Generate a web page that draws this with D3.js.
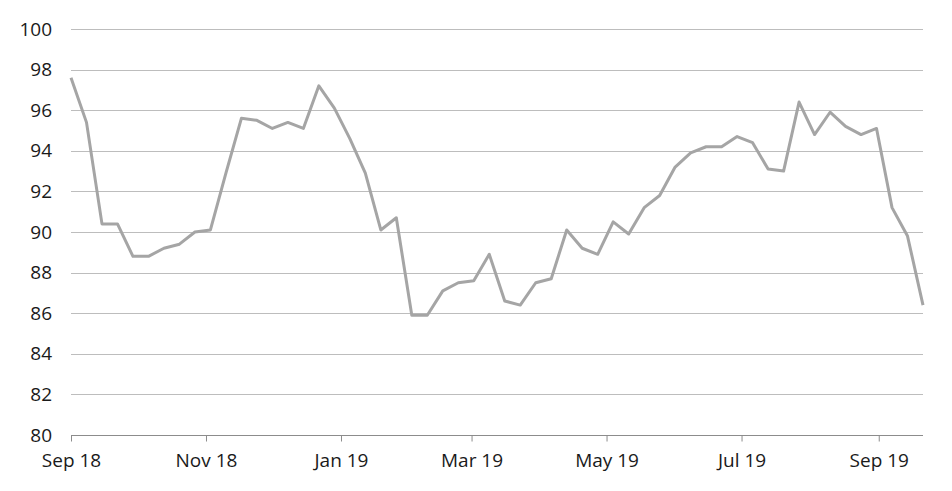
<!DOCTYPE html>
<html><head><meta charset="utf-8">
<script src="https://cdn.jsdelivr.net/npm/d3@7"></script>
<style>body{margin:0;background:#fff}svg{display:block}text{font-family:"Open Sans","DejaVu Sans",sans-serif}</style>
</head><body><svg id="c" width="952" height="491"></svg>
<script>
const dates = ["2018-09-01","2018-09-08","2018-09-15","2018-09-22","2018-09-29","2018-10-06","2018-10-13","2018-10-20","2018-10-27","2018-11-03","2018-11-10","2018-11-17","2018-11-24","2018-12-01","2018-12-08","2018-12-15","2018-12-22","2018-12-29","2019-01-05","2019-01-12","2019-01-19","2019-01-26","2019-02-02","2019-02-09","2019-02-16","2019-02-23","2019-03-02","2019-03-09","2019-03-16","2019-03-23","2019-03-30","2019-04-06","2019-04-13","2019-04-20","2019-04-27","2019-05-04","2019-05-11","2019-05-18","2019-05-25","2019-06-01","2019-06-08","2019-06-15","2019-06-22","2019-06-29","2019-07-06","2019-07-13","2019-07-20","2019-07-27","2019-08-03","2019-08-10","2019-08-17","2019-08-24","2019-08-31","2019-09-07","2019-09-14","2019-09-21"];
const values = [97.6,95.4,90.4,90.4,88.8,88.8,89.2,89.4,90.0,90.1,92.9,95.6,95.5,95.1,95.4,95.1,97.2,96.1,94.6,92.9,90.1,90.7,85.9,85.9,87.1,87.5,87.6,88.9,86.6,86.4,87.5,87.7,90.1,89.2,88.9,90.5,89.9,91.2,91.8,93.2,93.9,94.2,94.2,94.7,94.4,93.1,93.0,96.4,94.8,95.9,95.2,94.8,95.1,91.2,89.8,86.4];
const yTicks = [80,82,84,86,88,90,92,94,96,98,100];
const xTickDates = ["2018-09-01","2018-11-01","2019-01-01","2019-03-01","2019-05-01","2019-07-01","2019-09-01"];
const xTickLabels = ["Sep 18","Nov 18","Jan 19","Mar 19","May 19","Jul 19","Sep 19"];

const parse = d3.utcParse("%Y-%m-%d");
const data = dates.map((d,i)=>({date:parse(d), value:values[i]}));
const svg = d3.select("#c");
const m = {left:71, right:29, top:29, bottom:56};
const W = 952, H = 491;
const x = d3.scaleUtc().domain([parse(dates[0]), parse(dates[dates.length-1])]).range([m.left, W-m.right]);
const y = d3.scaleLinear().domain([80,100]).range([H-m.bottom, m.top]);

// grid
svg.append("g").selectAll("line").data(yTicks.filter(t=>t>80)).join("line")
  .attr("x1", m.left).attr("x2", W-m.right)
  .attr("y1", d=>Math.round(y(d))+0.5).attr("y2", d=>Math.round(y(d))+0.5)
  .attr("stroke", "#bdbdbd").attr("stroke-width", 1);

// y labels
const yAxis = d3.axisLeft(y).tickValues(yTicks).tickSize(0).tickPadding(19);
const gy = svg.append("g").attr("transform", `translate(${m.left},0)`).call(yAxis);
gy.select(".domain").remove();
gy.selectAll("text").attr("font-size", 19).attr("fill", "#1a1a1a").style("font-family", '"Open Sans",sans-serif');

// x axis
const xAxis = d3.axisBottom(x).tickValues(xTickDates.map(parse)).tickFormat((d,i)=>xTickLabels[i]).tickSize(6).tickPadding(12);
const gx = svg.append("g").attr("transform", `translate(0,${Math.round(y(80))+0.5})`).call(xAxis);
gx.select(".domain").attr("stroke", "#8c8c8c").attr("d", `M${m.left},0H${W-m.right}`);
gx.selectAll(".tick line").attr("stroke", "#8c8c8c");
gx.selectAll("text").attr("font-size", 19).attr("fill", "#1a1a1a").style("font-family", '"Open Sans",sans-serif');

// line
svg.append("path").datum(data)
  .attr("fill", "none").attr("stroke", "#a5a5a5").attr("stroke-width", 3).attr("stroke-linejoin", "round")
  .attr("d", d3.line().x(d=>x(d.date)).y(d=>y(d.value)));
</script></body></html>
